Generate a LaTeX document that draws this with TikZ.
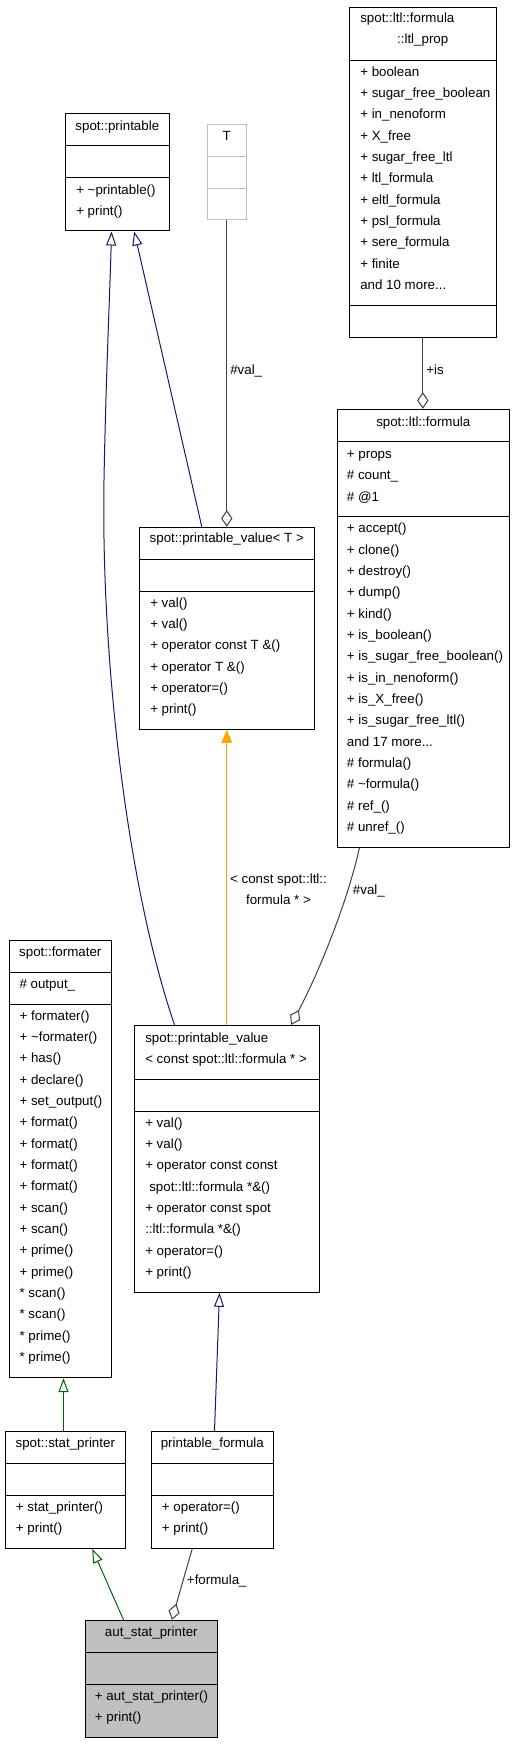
\documentclass[tikz,border=0pt]{standalone}
\usepackage{fontspec}
\setmainfont{Liberation Sans}
\usetikzlibrary{arrows.meta,fit,calc}
\definecolor{navy}{HTML}{191970}
\definecolor{dgreen}{HTML}{006400}
\definecolor{orng}{HTML}{FFA500}
\definecolor{lgray}{HTML}{BFBFBF}
\definecolor{dgray}{HTML}{404040}
\newcommand\mydots{...}
\tikzset{
  cls/.style={draw=black, line width=0.75pt, inner sep=0pt},
  sepline/.style={draw=black, line width=0.75pt},
  txt/.style={anchor=base west, inner sep=0pt, font=\fontsize{10}{12}\selectfont},
  ttl/.style={anchor=base, inner sep=0pt, font=\fontsize{10}{12}\selectfont},
  lbl/.style={anchor=base west, inner sep=0pt, font=\fontsize{10}{12}\selectfont},
  inh/.style={draw=navy, line width=0.75pt, -{Triangle[open,length=10.5pt,width=7.5pt,fill=white]}},
  inhg/.style={draw=dgreen, line width=0.75pt, -{Triangle[open,length=10.5pt,width=7.5pt,fill=white]}},
  tmpl/.style={draw=orng, line width=0.75pt, -{Triangle[length=9.75pt,width=8pt]}},
  assoc/.style={draw=dgray, line width=0.75pt, -{Diamond[open,length=12.5pt,width=8.5pt,fill=white]}}
}
\newcommand\clsep[3][black]{\draw[sepline,draw=#1] (#2.west |- 0,#3) -- (#2.east |- 0,#3);}
\newcommand\cllines[4]{\foreach \t [count=\i] in {#4} \node[txt] (#1-\i) at ({#2},{#3+(\i-1)*21.33}) {\t};}
\begin{document}
\begin{tikzpicture}[x=0.75pt,y=-0.75pt]
\useasboundingbox (0,0) rectangle (513,1744);
\fill[white] (0,0) rectangle (513,1744);

% spot::ltl::formula::ltl_prop
\node[cls, fit={(349.3,7.3) (496.3,337.3)}] (ltlprop) {};
\clsep{ltlprop}{60.3}
\clsep{ltlprop}{305.3}
\node[txt] (ltlprop-t1) at (360,22.8) {spot::ltl::formula};
\node[ttl] (ltlprop-t2) at (422.7,43.8) {::ltl\_prop};
\cllines{ltlprop-a}{360}{76.2}{+ boolean, + sugar\_free\_boolean, + in\_nenoform, + X\_free, + sugar\_free\_ltl, + ltl\_formula, + eltl\_formula, + psl\_formula, + sere\_formula, + finite, and 10 more\mydots}

% spot::printable
\node[cls, fit={(65.3,113.3) (169.3,231)}] (printable) {};
\clsep{printable}{145.3}
\clsep{printable}{177.3}
\node[ttl] (printable-t) at (117.3,130.2) {spot::printable};
\cllines{printable-m}{76}{194.2}{+ \textasciitilde printable(), + print()}

% T
\node[cls, draw=lgray, fit={(207.3,124.3) (246.3,220)}] (T) {};
\clsep[lgray]{T}{156.3}
\clsep[lgray]{T}{188.3}
\node[ttl] (T-t) at (226.8,140.2) {T};

% spot::ltl::formula
\node[cls, fit={(337.3,409.3) (509.3,847)}] (formula) {};
\clsep{formula}{441.3}
\clsep{formula}{516.3}
\node[ttl] (formula-t) at (423.3,426.2) {spot::ltl::formula};
\cllines{formula-a}{346.7}{458.5}{+ props, \# count\_, \# @1}
\cllines{formula-m}{346.7}{532.8}{+ accept(), + clone(), + destroy(), + dump(), + kind(), + is\_boolean(), + is\_sugar\_free\_boolean(), + is\_in\_nenoform(), + is\_X\_free(), + is\_sugar\_free\_ltl(), and 17 more\mydots, \# formula(), \# \textasciitilde formula(), \# ref\_(), \# unref\_()}

% spot::printable_value< T >
\node[cls, fit={(139.3,527.3) (314.3,729.3)}] (pvt) {};
\clsep{pvt}{559.3}
\clsep{pvt}{591.3}
\node[ttl] (pvt-t) at (226.8,542.8) {spot::printable\_value< T >};
\cllines{pvt-m}{150}{607.2}{+ val(), + val(), + operator const T \&(), + operator T \&(), + operator=(), + print()}

% spot::formater
\node[cls, fit={(9.3,940) (111.3,1377.7)}] (formater) {};
\clsep{formater}{972.3}
\clsep{formater}{1004.3}
\node[ttl] (formater-t) at (60.3,956.2) {spot::formater};
\node[txt] (formater-a) at (19.3,988.5) {\# output\_};
\cllines{formater-m}{19.3}{1020.2}{+ formater(), + \textasciitilde formater(), + has(), + declare(), + set\_output(), + format(), + format(), + format(), + format(), + scan(), + scan(), + prime(), + prime(), * scan(), * scan(), * prime(), * prime()}

% spot::printable_value< const spot::ltl::formula * >
\node[cls, fit={(134.3,1025.3) (319.3,1292.3)}] (pvc) {};
\clsep{pvc}{1079.3}
\clsep{pvc}{1111.3}
\node[txt] (pvc-t1) at (145,1042.2) {spot::printable\_value};
\node[txt] (pvc-t2) at (145,1063.2) {< const spot::ltl::formula * >};
\cllines{pvc-m}{145}{1127.2}{+ val(), + val(), + operator const const, \kern3pt spot::ltl::formula *\&(), + operator const spot, ::ltl::formula *\&(), + operator=(), + print()}

% spot::stat_printer
\node[cls, fit={(5.3,1431.3) (125.3,1548.3)}] (sp) {};
\clsep{sp}{1463.3}
\clsep{sp}{1495.3}
\node[ttl] (sp-t) at (65.3,1447.2) {spot::stat\_printer};
\cllines{sp-m}{15.7}{1511.2}{+ stat\_printer(), + print()}

% printable_formula
\node[cls, fit={(151.3,1431.3) (273.3,1548.3)}] (pf) {};
\clsep{pf}{1463.3}
\clsep{pf}{1495.3}
\node[ttl] (pf-t) at (212.3,1447.2) {printable\_formula};
\cllines{pf-m}{161.7}{1511.2}{+ operator=(), + print()}

% aut_stat_printer
\node[cls, fill=lgray, fit={(85.3,1620.3) (217.3,1737)}] (aut) {};
\clsep{aut}{1652.3}
\clsep{aut}{1684.3}
\node[ttl] (aut-t) at (151.3,1636.2) {aut\_stat\_printer};
\cllines{aut-m}{94.7}{1700.2}{+ aut\_stat\_printer(), + print()}

% connectors
\draw[inh] ($(pvt.north west)+(63,0)$) -- ($(printable.south west)+(69.4,0)$);
\draw[inh] ($(pvc.north west)+(40.7,0)$) .. controls (125,880) and (101,650) .. (104,480) .. controls (105.8,380) and (110,290) .. ($(printable.south west)+(46.7,0)$);
\draw[assoc] (T.south) -- (pvt.north);
\node[lbl] (lval1) at (230,374.2) {\#val\_};
\draw[assoc] (ltlprop.south) -- (ltlprop.south |- formula.north);
\node[lbl] (lis) at (426,374.2) {+is};
\draw[assoc] ($(formula.south west)+(22.7,0)$) .. controls (348,900) and (320,970) .. ($(pvc.north west)+(157.4,0)$);
\node[lbl] (lval2) at (352.7,894.2) {\#val\_};
\draw[tmpl] ($(pvc.north west)+(93,0)$) -- ($(pvt.south west)+(88,0)$);
\node[ttl] (ltm1) at (278.5,883.5) {< const spot::ltl::};
\node[ttl] (ltm2) at (278.5,904.2) {formula * >};
\draw[inh] ($(pf.north west)+(63.7,0)$) -- ($(pvc.south west)+(85.7,0)$);
\draw[inhg] ($(sp.north west)+(58.7,0)$) -- ($(formater.south west)+(54.7,0)$);
\draw[inhg] ($(aut.north west)+(38.7,0)$) -- ($(sp.south west)+(87.4,0)$);
\draw[assoc] ($(pf.south west)+(41.4,0)$) -- ($(aut.north west)+(87,0)$);
\node[lbl] (lf) at (186.7,1584.2) {+formula\_};
\end{tikzpicture}
\end{document}
